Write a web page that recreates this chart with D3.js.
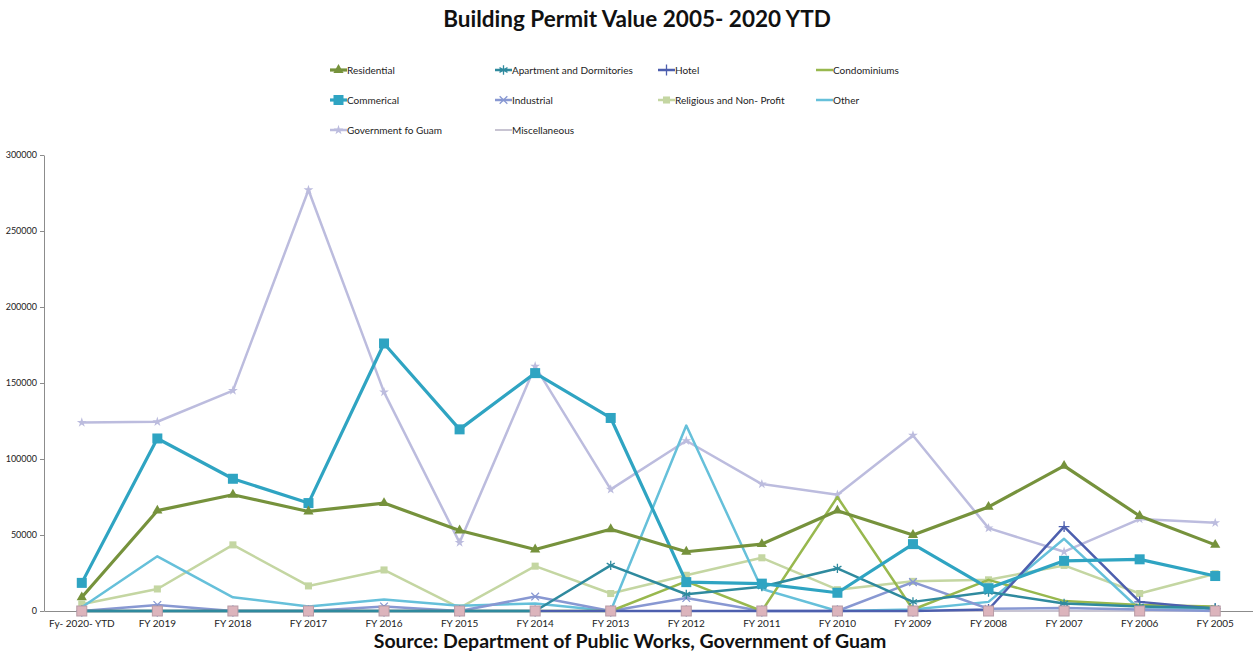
<!DOCTYPE html>
<html>
<head>
<meta charset="utf-8">
<script src="https://cdn.jsdelivr.net/npm/d3@7"></script>
<style>
  body { margin: 0; background: #fff; }
  text { font-family: Lato, "Open Sans", sans-serif; }
</style>
</head>
<body>
<svg id="chart" width="1253" height="654"></svg>
<script>
const categories = ["Fy- 2020- YTD", "FY 2019", "FY 2018", "FY 2017", "FY 2016", "FY 2015", "FY 2014", "FY 2013",
  "FY 2012", "FY 2011", "FY 2010", "FY 2009", "FY 2008", "FY 2007", "FY 2006", "FY 2005"]
const yTicks = [0, 50000, 100000, 150000, 200000, 250000, 300000]

const residential = [9000, 66000, 76500, 65500, 71000, 53000, 40500, 53800, 39000, 44000, 66000, 50000, 68500, 95500, 62500, 43500]
const apartment = [0, 0, 0, 0, 0, 0, 0, 30000, 11000, 16000, 28000, 6000, 12500, 5000, 3000, 2000]
const hotel = [0, 0, 0, 0, 0, 0, 0, 0, 0, 0, 0, 0, 1000, 55500, 6000, 1500]
const condominiums = [0, 0, 0, 0, 0, 0, 0, 0, 19500, 0, 75000, 1000, 20500, 6500, 4000, 3000]
const commerical = [18500, 113500, 87000, 71000, 176000, 119500, 156500, 127000, 19000, 18000, 12000, 44000, 15000, 33000, 34000, 23000]
const industrial = [0, 4000, 0, 0, 3000, 0, 9500, 0, 8500, 0, 0, 19000, 1500, 2000, 1000, 0]
const religious = [4500, 14500, 43500, 16500, 27000, 2000, 29500, 11500, 23500, 35000, 14000, 19500, 20500, 30000, 11500, 24500]
const other = [2500, 36000, 9000, 3000, 7500, 3500, 5000, 0, 122000, 14500, 0, 1000, 6000, 47500, 1000, 1000]
const government = [124000, 124500, 145000, 277000, 144000, 45000, 161000, 80000, 112000, 83500, 76500, 115500, 54500, 39000, 60500, 58000]
const miscellaneous = [0, 0, 0, 0, 0, 0, 0, 0, 0, 0, 0, 0, 0, 0, 0, 0]

const series = [
  { name: "Residential", values: residential, color: "#76923c", width: 3.2, marker: "triangle" },
  { name: "Apartment and Dormitories", values: apartment, color: "#2f8a9e", width: 2.5, marker: "asterisk" },
  { name: "Hotel", values: hotel, color: "#4d5fae", width: 2.5, marker: "plus" },
  { name: "Condominiums", values: condominiums, color: "#98b84e", width: 2.5, marker: null },
  { name: "Commerical", values: commerical, color: "#2fa4c2", width: 3.2, marker: "square" },
  { name: "Industrial", values: industrial, color: "#8898d2", width: 2.5, marker: "cross" },
  { name: "Religious and Non- Profit", values: religious, color: "#c4d6a2", width: 2.5, marker: "diamond" },
  { name: "Other", values: other, color: "#66c0da", width: 2.5, marker: null },
  { name: "Government fo Guam", values: government, color: "#bcbcde", width: 2.5, marker: "star" },
  { name: "Miscellaneous", values: miscellaneous, color: "#c8c4d2", width: 2, marker: "pinksquare" }
]

const width = 1253
const height = 654
const margin = { top: 155, right: 0, bottom: 43, left: 44 }
const svg = d3.select("#chart")

const x = d3.scaleBand()
  .domain(categories)
  .range([margin.left, width - margin.right])
const y = d3.scaleLinear()
  .domain([0, 300000])
  .range([height - margin.bottom, margin.top])

svg.append("text")
  .attr("x", 637).attr("y", 27)
  .attr("text-anchor", "middle")
  .style("font-size", "22.5px").style("font-weight", "bold").style("fill", "#111")
  .text("Building Permit Value 2005- 2020 YTD")

// axes
const yAxis = svg.append("g")
  .attr("transform", `translate(${margin.left},0)`)
  .call(d3.axisLeft(y).tickValues(yTicks).tickFormat(d3.format("d")).tickSize(4).tickSizeOuter(0))
yAxis.select(".domain").attr("stroke", "#8c8c8c")
yAxis.selectAll(".tick line").attr("stroke", "#8c8c8c")
yAxis.selectAll("text").style("font-size", "9px").attr("fill", "#222")

const xAxis = svg.append("g")
  .attr("transform", `translate(0,${height - margin.bottom})`)
  .call(d3.axisBottom(x).tickSize(0).tickSizeOuter(0).tickPadding(9))
xAxis.select(".domain").attr("stroke", "#8c8c8c")
xAxis.selectAll("text").style("font-size", "10px").attr("fill", "#222")

const cx = c => x(c) + x.bandwidth() / 2
const line = d3.line()
  .x((d, i) => cx(categories[i]))
  .y(d => y(d))

function drawMarker(g, type, px, py, color) {
  if (type === "triangle") {
    g.append("path").attr("d", d3.symbol(d3.symbolTriangle, 45)()).attr("transform", `translate(${px},${py})`).attr("fill", color)
  } else if (type === "square") {
    g.append("rect").attr("x", px - 5).attr("y", py - 5).attr("width", 10).attr("height", 10).attr("fill", color)
  } else if (type === "pinksquare") {
    g.append("rect").attr("x", px - 5).attr("y", py - 5).attr("width", 10).attr("height", 10)
      .attr("fill", "#dcb4bc").attr("stroke", "#b89ca6").attr("stroke-width", 1)
  } else if (type === "diamond") {
    g.append("path").attr("d", d3.symbol(d3.symbolSquare, 50)()).attr("transform", `translate(${px},${py})`).attr("fill", color)
  } else if (type === "asterisk") {
    g.append("path").attr("d", d3.symbol(d3.symbolAsterisk, 60)()).attr("transform", `translate(${px},${py})`)
      .attr("fill", "none").attr("stroke", color).attr("stroke-width", 1.3)
  } else if (type === "cross") {
    g.append("path").attr("d", d3.symbol(d3.symbolTimes, 40)()).attr("transform", `translate(${px},${py})`)
      .attr("fill", "none").attr("stroke", color).attr("stroke-width", 1.3)
  } else if (type === "plus") {
    g.append("path").attr("d", d3.symbol(d3.symbolPlus, 40)()).attr("transform", `translate(${px},${py})`)
      .attr("fill", "none").attr("stroke", color).attr("stroke-width", 1.3)
  } else if (type === "star") {
    g.append("path").attr("d", d3.symbol(d3.symbolStar, 30)()).attr("transform", `translate(${px},${py})`).attr("fill", color)
  }
}

const plot = svg.append("g")
const order = [9, 8, 6, 7, 5, 3, 2, 1, 4, 0]
order.forEach(k => {
  const s = series[k]
  plot.append("path")
    .attr("d", line(s.values))
    .attr("fill", "none")
    .attr("stroke", s.color)
    .attr("stroke-width", s.width)
    .attr("stroke-linejoin", "round")
  if (s.marker && s.marker !== "pinksquare") {
    s.values.forEach((v, i) => drawMarker(plot, s.marker, cx(categories[i]), y(v), s.color))
  }
})
// the pink zero markers sit on top in the original
miscellaneous.forEach((v, i) => drawMarker(plot, "pinksquare", cx(categories[i]), y(v), "#dcb4bc"))

// legend
const legendX = [330, 495, 658, 816]
const legendY = [70, 100, 130]
series.forEach((s, i) => {
  const lx = legendX[i % 4]
  const ly = legendY[Math.floor(i / 4)]
  const g = svg.append("g")
  g.append("line").attr("x1", lx).attr("x2", lx + 17).attr("y1", ly).attr("y2", ly)
    .attr("stroke", s.color).attr("stroke-width", s.width)
  if (s.marker && s.marker !== "pinksquare") drawMarker(g, s.marker, lx + 8.5, ly, s.color)
  g.append("text").attr("x", lx + 17).attr("y", ly + 3.5)
    .style("font-size", "10px").attr("fill", "#222").text(s.name)
})

svg.append("text")
  .attr("x", 630).attr("y", 648)
  .attr("text-anchor", "middle")
  .style("font-size", "19.5px").style("font-weight", "bold").style("fill", "#111")
  .text("Source: Department of Public Works, Government of Guam")
</script>
</body>
</html>
